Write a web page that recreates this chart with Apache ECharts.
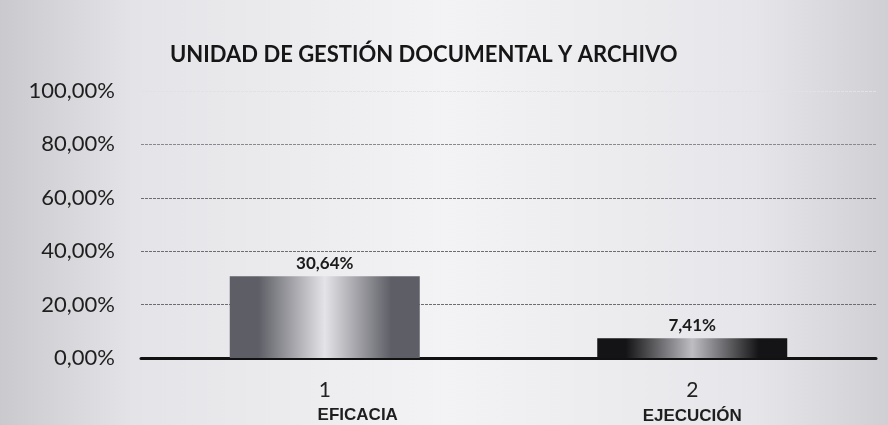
<!DOCTYPE html>
<html>
<head>
<meta charset="utf-8">
<script src="https://cdn.jsdelivr.net/npm/echarts@6/dist/echarts.min.js"></script>
<style>
  html, body { margin: 0; padding: 0; }
  #chart { width: 888px; height: 425px; }
</style>
</head>
<body>
<div id="chart"></div>
<script>
  const categories = ['1', '2'];
  const categoryNames = ['EFICACIA', 'EJECUCIÓN'];
  const values = [30.64, 7.41];
  const yTicks = [0, 20, 40, 60, 80, 100];

  const fmt = v => v.toFixed(2).replace('.', ',') + '%';

  function barGradient(edge, mid) {
    return {
      type: 'linear', x: 0, y: 0, x2: 1, y2: 0,
      colorStops: [
        { offset: 0, color: edge },
        { offset: 0.15, color: edge },
        { offset: 0.5, color: mid },
        { offset: 0.85, color: edge },
        { offset: 1, color: edge }
      ]
    };
  }
  const barColors = [barGradient('#5e5e66', '#e4e4e8'), barGradient('#141416', '#bdbdc2')];

  const chart = echarts.init(document.getElementById('chart'));
  chart.setOption({
    backgroundColor: {
      type: 'linear', x: 0, y: 0, x2: 1, y2: 0,
      colorStops: [
        { offset: 0, color: '#c9c9ce' },
        { offset: 0.15, color: '#e4e4e8' },
        { offset: 0.5, color: '#f3f3f5' },
        { offset: 0.85, color: '#e6e6ea' },
        { offset: 1, color: '#cfcfd4' }
      ]
    },
    title: {
      text: 'UNIDAD DE GESTIÓN DOCUMENTAL Y ARCHIVO',
      left: 165,
      top: 39,
      textStyle: { fontFamily: 'Lato', fontWeight: 'bold', fontSize: 22, color: '#161616' }
    },
    grid: { left: 141, right: 12, top: 91, bottom: 66 },
    xAxis: {
      type: 'category',
      data: categories,
      axisLine: { lineStyle: { color: '#111', width: 3 } },
      axisTick: { show: false },
      axisLabel: {
        margin: 20,
        formatter: (v, i) => '{n|' + v + '}\n{' + (i === 0 ? 'a' : 'b') + '|' + categoryNames[i] + '}',
        rich: {
          n: { fontFamily: 'Lato', fontSize: 21, color: '#222', lineHeight: 24 },
          a: { fontFamily: 'Liberation Sans', fontWeight: 'bold', fontSize: 17, color: '#1e1e1e', padding: [0, 0, 0, 66], lineHeight: 26 },
          b: { fontFamily: 'Liberation Sans', fontWeight: 'bold', fontSize: 17, color: '#1e1e1e', padding: [3, 0, 0, 0], lineHeight: 26 }
        }
      }
    },
    yAxis: {
      type: 'value',
      min: yTicks[0],
      max: yTicks[yTicks.length - 1],
      interval: 20,
      axisLine: { show: false },
      axisTick: { show: false },
      axisLabel: {
        margin: 26,
        formatter: fmt,
        fontFamily: 'Lato',
        fontSize: 22,
        color: '#1e1e1e'
      },
      splitLine: {
        lineStyle: {
          color: ['#777', '#6e6e72', '#6e6e72', '#6e6e72', '#8a8a8e', '#e2e2e6'],
          width: 1,
          type: [3, 1]
        }
      }
    },
    series: [{
      type: 'bar',
      barWidth: 190,
      data: values.map((v, i) => ({ value: v, itemStyle: { color: barColors[i] } })),
      label: {
        show: true,
        position: 'top',
        distance: 4,
        formatter: p => fmt(p.value),
        fontFamily: 'Lato',
        fontWeight: 'bold',
        fontSize: 17,
        color: '#1a1a1a'
      }
    }]
  });
</script>
</body>
</html>
